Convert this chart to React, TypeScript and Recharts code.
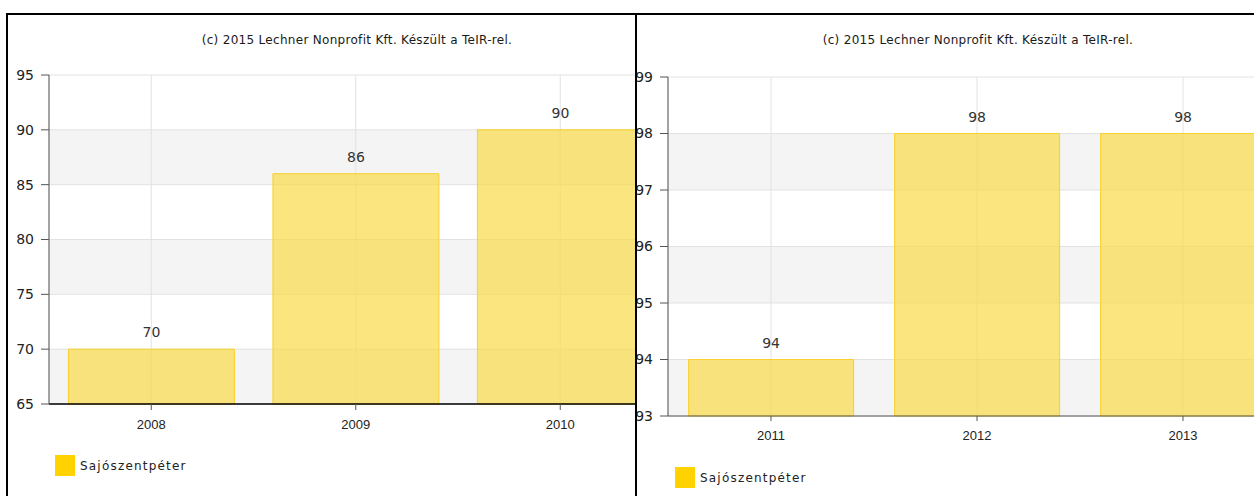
import React from 'react';
import { BarChart, Bar, XAxis, YAxis, CartesianGrid, LabelList, Legend } from 'recharts';

// data
const leftYears = ['2008', '2009', '2010'];
const leftValues = [70, 86, 90];
const leftTicks = [65, 70, 75, 80, 85, 90, 95];

const rightYears = ['2011', '2012', '2013'];
const rightValues = [94, 98, 98];
const rightTicks = [93, 94, 95, 96, 97, 98, 99];

const seriesName = 'Sajószentpéter';
const titleText = '(c) 2015 Lechner Nonprofit Kft. Készült a TeIR-rel.';

const BAR_FILL = '#f9da47';
const BAR_STROKE = '#f8d030';
const LEGEND_FILL = '#ffd200';

const FONT = '"DejaVu Sans", Verdana, sans-serif';

interface PanelProps {
  years: string[];
  values: number[];
  ticks: number[];
  width: number;
  yAxisWidth: number;
  marginTop: number;
  marginRight: number;
  marginBottom: number;
  gap: string;
  xAxisColor: string;
  xAxisStroke: number;
  tickSize: number;
  legendLeft: number;
  legendTop: number;
}

/**
 * Legend: a gold square with the settlement name
 */
const SquareLegend: React.FC = () => (
  <div style={{ display: 'flex', alignItems: 'center', fontFamily: FONT }}>
    <div style={{ width: 20, height: 21, background: LEGEND_FILL }} />
    <span style={{ marginLeft: 5, fontSize: 12, letterSpacing: 1.2, color: '#222' }}>{seriesName}</span>
  </div>
);

const Panel: React.FC<PanelProps> = (p) => {
  const data = p.years.map((year, i) => ({ year, value: p.values[i] }));
  return (
    <BarChart
      width={p.width}
      height={496}
      data={data}
      barCategoryGap={p.gap}
      margin={{ top: p.marginTop, right: p.marginRight, bottom: p.marginBottom, left: 0 }}
      style={{ fontFamily: FONT }}
    >
      <CartesianGrid
        stroke="#e2e2e2"
        horizontalFill={['#ffffff', '#f4f4f4']}
      />
      <XAxis
        dataKey="year"
        height={30}
        tickSize={p.tickSize}
        tickMargin={10}
        axisLine={{ stroke: p.xAxisColor, strokeWidth: p.xAxisStroke }}
        tickLine={{ stroke: '#555' }}
        tick={{ fontSize: 13, fill: '#222', fontFamily: '"Liberation Sans", Arial, sans-serif' }}
      />
      <YAxis
        type="number"
        width={p.yAxisWidth}
        domain={[p.ticks[0], p.ticks[p.ticks.length - 1]]}
        ticks={p.ticks}
        interval={0}
        tickSize={8}
        tickMargin={7}
        axisLine={{ stroke: '#555' }}
        tickLine={{ stroke: '#555' }}
        tick={{ fontSize: 14, fill: '#222', fontFamily: FONT }}
      />
      <Legend
        layout="horizontal"
        verticalAlign="middle"
        align="center"
        wrapperStyle={{ left: p.legendLeft, top: p.legendTop, width: 'auto', height: 'auto' }}
        content={() => <SquareLegend />}
      />
      <Bar
        dataKey="value"
        name={seriesName}
        fill={BAR_FILL}
        fillOpacity={0.7}
        stroke={BAR_STROKE}
        strokeWidth={1}
        isAnimationActive={false}
      >
        <LabelList dataKey="value" position="top" offset={12} style={{ fill: '#333', fontSize: 14, fontFamily: FONT }} />
      </Bar>
    </BarChart>
  );
};

const titleStyle: React.CSSProperties = {
  position: 'absolute',
  top: 33,
  width: 400,
  textAlign: 'center',
  fontFamily: FONT,
  fontSize: 12,
  letterSpacing: 0.3,
  color: '#1a1a1a',
  whiteSpace: 'nowrap',
};

const App: React.FC = () => {
  return (
    <div
      style={{
        position: 'absolute',
        left: 0,
        top: 0,
        width: 1254,
        height: 496,
        overflow: 'hidden',
        background: '#fff',
      }}
    >
      {/* left panel */}
      <div style={{ position: 'absolute', left: 0, top: 0, width: 635, height: 496, overflow: 'hidden' }}>
        <Panel
          years={leftYears}
          values={leftValues}
          ticks={leftTicks}
          width={680}
          yAxisWidth={49}
          marginTop={75}
          marginRight={17.5}
          marginBottom={62}
          gap="9.5%"
          xAxisColor="#000"
          xAxisStroke={1.5}
          tickSize={6}
          legendLeft={55}
          legendTop={455}
        />
        <div style={{ ...titleStyle, left: 157 }}>{titleText}</div>
      </div>

      {/* right panel */}
      <div style={{ position: 'absolute', left: 637, top: 0, width: 617, height: 496, overflow: 'hidden' }}>
        <div style={{ position: 'absolute', left: -37, top: 0 }}>
          <Panel
            years={rightYears}
            values={rightValues}
            ticks={rightTicks}
            width={706}
            yAxisWidth={68}
            marginTop={77}
            marginRight={20}
            marginBottom={50}
            gap="10%"
            xAxisColor="#555"
            xAxisStroke={1}
            tickSize={5}
            legendLeft={75}
            legendTop={467}
          />
        </div>
        <div style={{ ...titleStyle, left: 978 - 637 - 200 }}>{titleText}</div>
      </div>

      {/* panel frames */}
      <div style={{ position: 'absolute', left: 6, top: 13, width: 1248, height: 2, background: '#000' }} />
      <div style={{ position: 'absolute', left: 6, top: 13, width: 2, height: 483, background: '#000' }} />
      <div style={{ position: 'absolute', left: 635, top: 13, width: 2, height: 483, background: '#000' }} />
    </div>
  );
};

export default App;
